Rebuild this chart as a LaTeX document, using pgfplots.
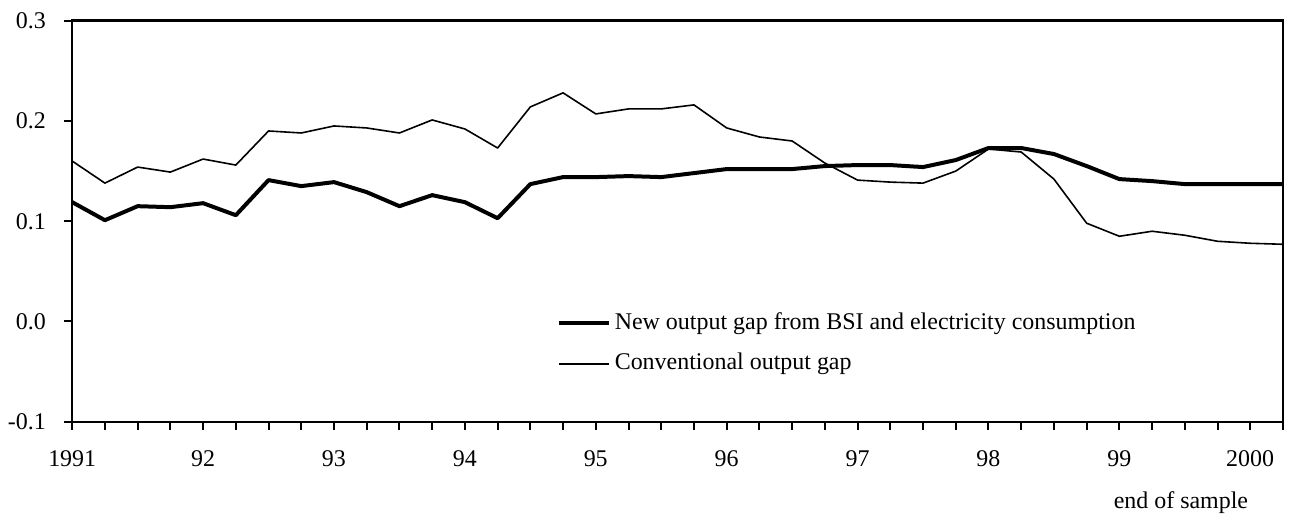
\documentclass[border=0pt]{standalone}
\usepackage{pgfplots}
\pgfplotsset{compat=1.18}
\usepackage{fontspec}
\setmainfont{Liberation Serif}
\begin{document}
\fontsize{12pt}{14pt}\selectfont
\begin{tikzpicture}
\begin{axis}[
  at={(0,0)}, anchor=south west,
  scale only axis, width=606.75pt, height=201pt,
  xmin=1991, xmax=2000.25, ymin=-0.1, ymax=0.3,
  axis line style={line width=1.2pt},
  xtick={1991,1992,...,2000},
  xticklabels={1991,92,93,94,95,96,97,98,99,2000},
  minor xtick={1991.25,1991.5,...,2000.25},
  ytick={-0.1,0,0.1,0.2,0.3},
  xtick pos=bottom, ytick pos=left,
  tick align=outside,
  major tick length=4pt, minor tick length=4pt,
  every tick/.style={black, line width=1pt},
  every minor tick/.style={black, line width=1pt},
  /pgf/number format/assume math mode=true,
  yticklabel={\pgfmathprintnumber[fixed,fixed zerofill,precision=1]{\tick}},
  yticklabel shift=5pt,
  xticklabel shift=6pt,
  xticklabel style={text height=8pt, text depth=0pt},
  ticklabel style={font=\fontsize{12pt}{14pt}\selectfont},
  legend cell align=left,
  legend style={at={(0.400,0.195)}, anchor=west, draw=none, fill=none, inner sep=0pt,
    row sep=4.5pt, nodes={text height=9pt, text depth=3pt, inner sep=2pt},
    font=\fontsize{12pt}{14pt}\selectfont},
  legend image code/.code={\draw[#1] (0pt,0pt) -- (25pt,0pt);},
]
\addplot[black, line width=2pt, line join=round] coordinates {
(1991.00,0.119)(1991.25,0.101)(1991.50,0.115)(1991.75,0.114)
(1992.00,0.118)(1992.25,0.106)(1992.50,0.141)(1992.75,0.135)
(1993.00,0.139)(1993.25,0.129)(1993.50,0.115)(1993.75,0.126)
(1994.00,0.119)(1994.25,0.103)(1994.50,0.137)(1994.75,0.144)
(1995.00,0.144)(1995.25,0.145)(1995.50,0.144)(1995.75,0.148)
(1996.00,0.152)(1996.25,0.152)(1996.50,0.152)(1996.75,0.155)
(1997.00,0.156)(1997.25,0.156)(1997.50,0.154)(1997.75,0.161)
(1998.00,0.173)(1998.25,0.173)(1998.50,0.167)(1998.75,0.155)
(1999.00,0.142)(1999.25,0.140)(1999.50,0.137)(1999.75,0.137)
(2000.00,0.137)(2000.25,0.137)};
\addlegendentry{New output gap from BSI and electricity consumption}
\addplot[black, line width=0.8pt, line join=round] coordinates {
(1991.00,0.160)(1991.25,0.138)(1991.50,0.154)(1991.75,0.149)
(1992.00,0.162)(1992.25,0.156)(1992.50,0.190)(1992.75,0.188)
(1993.00,0.195)(1993.25,0.193)(1993.50,0.188)(1993.75,0.201)
(1994.00,0.192)(1994.25,0.173)(1994.50,0.214)(1994.75,0.228)
(1995.00,0.207)(1995.25,0.212)(1995.50,0.212)(1995.75,0.216)
(1996.00,0.193)(1996.25,0.184)(1996.50,0.180)(1996.75,0.158)
(1997.00,0.141)(1997.25,0.139)(1997.50,0.138)(1997.75,0.150)
(1998.00,0.172)(1998.25,0.169)(1998.50,0.142)(1998.75,0.098)
(1999.00,0.085)(1999.25,0.090)(1999.50,0.086)(1999.75,0.080)
(2000.00,0.078)(2000.25,0.077)};
\addlegendentry{Conventional output gap}
\end{axis}
\node[anchor=base, inner sep=0pt, font=\fontsize{12pt}{14pt}\selectfont] at (555.6pt,-43.4pt) {end of sample};
\path (-34.75pt,-46.65pt) rectangle (609.75pt,211.35pt);
\end{tikzpicture}
\end{document}
